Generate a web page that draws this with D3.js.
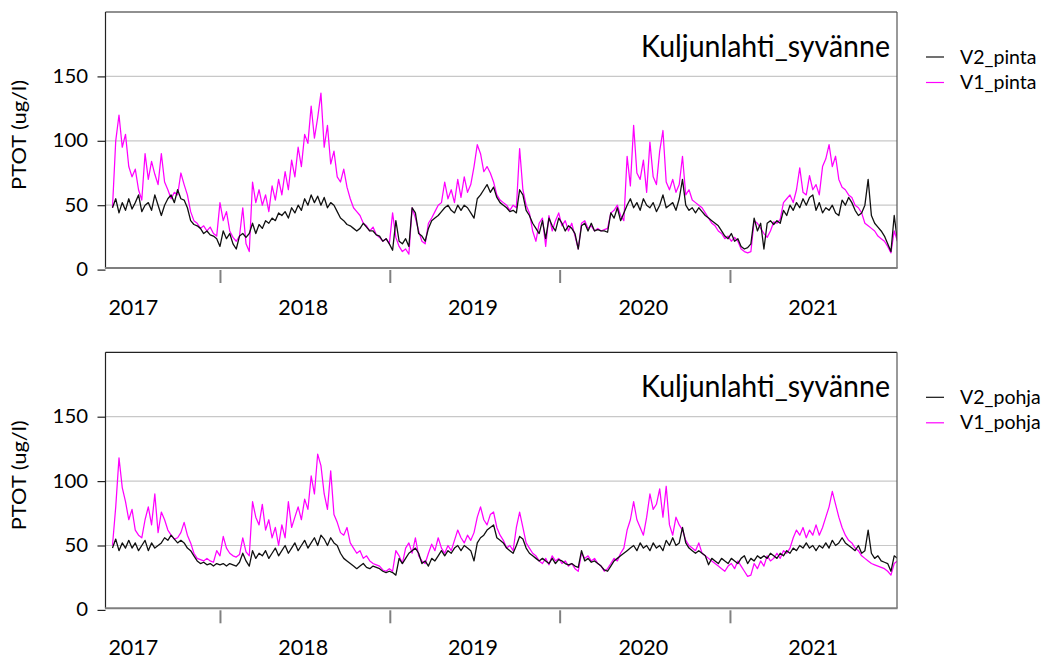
<!DOCTYPE html>
<html>
<head>
<meta charset="utf-8">
<script src="https://cdn.jsdelivr.net/npm/d3@7"></script>
<style>
  body { margin: 0; background: #fff; }
  svg { display: block; }
  text { font-family: Lato, "Open Sans", sans-serif; fill: #000; }
</style>
</head>
<body>
<svg id="chart" width="1043" height="659"></svg>
<script>
// Weekly total phosphorus (ug/l), first sample 2017-05-15
const seriesStart = "2017-05-15";
const stepDays = 7;
const yearLabels = [2017, 2018, 2019, 2020, 2021];
const yTicks = [0, 50, 100, 150];
const stationName = "Kuljunlahti_syvänne";
const yTitle = "PTOT (ug/l)";
const surfaceNames = ["V2_pinta", "V1_pinta"];
const bottomNames = ["V2_pohja", "V1_pohja"];

const v2Pinta = [48,55,44,52,46,55,47,52,58,45,50,52,46,58,50,42,50,55,58,52,62,55,54,48,38,35,34,32,28,30,
  27,26,24,18,30,24,28,20,16,26,28,25,28,36,28,35,32,38,36,40,38,44,42,45,40,48,44,50,46,55,
  50,58,52,57,50,56,48,52,50,45,40,38,35,34,32,30,32,36,33,30,30,27,26,22,24,20,15,38,22,20,
  24,18,48,44,28,26,22,32,38,40,42,45,48,50,46,44,50,46,50,48,44,40,55,58,62,66,60,64,56,52,
  50,48,45,46,44,62,58,46,42,36,32,28,38,24,40,34,30,40,36,30,34,32,28,16,34,36,30,36,30,31,
  30,30,29,44,40,48,38,44,50,55,48,52,46,55,50,48,52,45,50,58,48,50,52,46,55,70,50,46,48,44,
  48,45,42,40,38,36,34,30,26,24,28,22,24,18,16,17,20,40,30,36,16,36,38,35,38,36,46,42,50,46,
  52,48,55,50,56,58,46,52,44,48,46,50,44,42,54,50,56,52,46,42,44,50,70,42,36,33,30,26,20,14,
  42,22];
const v1Pinta = [48,100,120,95,105,80,72,78,62,54,90,70,84,74,66,90,68,62,55,60,58,75,66,58,45,38,36,32,34,30,
  33,28,26,52,38,45,30,25,22,26,48,20,14,68,52,62,50,58,45,65,54,70,58,76,62,85,72,95,80,105,
  98,127,102,118,137,95,112,82,92,72,68,78,64,55,48,45,42,36,34,30,33,27,25,22,24,20,44,25,18,
  14,16,12,48,40,30,22,20,36,40,45,50,52,68,55,62,52,70,56,72,60,66,80,97,90,76,80,75,68,58,54,
  52,50,46,50,48,94,62,50,44,30,22,36,40,18,42,30,38,44,34,38,30,36,26,16,36,38,32,34,30,32,
  30,31,32,44,46,50,42,38,88,65,112,75,70,85,60,99,72,66,92,108,68,62,70,60,66,88,58,62,54,52,
  50,48,44,40,36,34,30,28,24,26,22,25,22,16,14,13,14,38,36,32,28,25,30,37,36,39,52,55,58,52,
  62,79,60,58,73,62,66,58,80,86,97,80,88,70,64,62,58,56,50,48,44,36,34,32,30,26,24,22,18,13,
  30,22];
const v2Pohja = [48,55,46,52,48,54,48,52,46,50,54,46,52,48,50,52,56,54,58,55,52,54,52,48,46,42,38,36,37,35,
  36,34,36,35,36,34,36,35,34,37,44,38,34,46,40,44,42,46,40,44,48,42,46,50,44,48,52,46,50,54,
  48,52,56,50,58,55,50,56,52,50,44,40,38,36,34,32,34,36,33,32,34,33,32,30,29,30,29,27,40,36,
  40,44,46,48,44,36,38,34,40,38,42,46,42,46,44,48,50,46,50,48,46,38,52,56,58,62,64,66,56,54,
  52,48,46,44,50,57,55,48,44,42,40,38,40,38,36,40,36,39,38,36,35,36,34,33,46,38,40,37,38,36,
  34,31,30,34,38,40,42,44,46,48,50,46,52,48,50,46,52,48,50,46,54,50,56,50,52,64,52,48,46,44,
  46,44,42,35,40,38,36,40,38,36,40,38,36,40,42,36,40,38,42,40,42,40,44,42,40,44,42,46,44,48,
  46,50,48,52,48,50,46,50,48,52,48,54,50,52,56,52,50,48,46,50,44,46,62,44,40,42,38,37,36,30,
  42,40];
const v1Pohja = [50,80,118,95,84,70,78,62,58,56,70,80,66,90,60,76,70,62,58,55,56,60,68,58,52,44,40,39,38,40,
  38,37,46,42,57,48,44,42,41,43,56,45,42,84,72,66,82,62,70,56,64,50,66,56,84,64,72,80,70,86,
  78,104,90,121,112,90,78,108,74,68,60,58,64,52,48,44,46,40,42,38,36,35,34,31,30,32,30,46,42,
  36,48,52,44,56,42,38,36,44,51,46,56,48,44,50,46,54,62,56,52,58,54,60,72,80,70,66,74,76,64,58,
  54,48,50,46,64,76,64,52,48,44,42,38,36,40,35,42,38,40,36,38,34,36,32,30,44,40,42,38,40,36,
  34,30,32,36,40,38,44,48,62,70,84,70,64,58,72,90,78,82,94,72,96,66,58,72,66,62,54,50,48,46,
  52,44,42,40,38,36,34,32,30,34,36,32,38,34,30,26,27,36,32,38,34,42,38,40,44,40,46,44,48,56,
  62,58,64,56,62,58,66,58,64,72,80,92,82,72,64,58,54,52,48,46,42,40,38,36,35,34,33,32,30,27,
  36,38];

const svg = d3.select("#chart");

const plot = { left: 105.5, right: 897, top: 12, bottom: 268 };
const dayMs = 86400000;
const t0 = Date.parse(seriesStart + "T00:00:00Z");
const dateAt = i => new Date(t0 + i * stepDays * dayMs);

const x = d3.scaleUtc()
  .domain([new Date(Date.UTC(2017, 3, 30)), new Date(Date.UTC(2021, 11, 26))])
  .range([plot.left, plot.right]);
const y = d3.scaleLinear().domain([0, 200]).range([269.6, 12]);

const line = d3.line()
  .x((d, i) => x(dateAt(i)))
  .y(d => y(d));

// stretch a text element horizontally to a given ink width
function fitWidth(sel, w) {
  sel.attr("textLength", w).attr("lengthAdjust", "spacingAndGlyphs");
}

const panels = [
  { dy: 0, names: surfaceNames, dark: v2Pinta, pink: v1Pinta },
  { dy: 340.3, names: bottomNames, dark: v2Pohja, pink: v1Pohja }
];

panels.forEach((p, k) => {
  const g = svg.append("g").attr("transform", `translate(0,${p.dy})`);
  const clipId = "clip" + k;
  g.append("clipPath").attr("id", clipId)
    .append("rect")
    .attr("x", plot.left).attr("y", plot.top)
    .attr("width", plot.right - plot.left).attr("height", plot.bottom - plot.top);

  // horizontal gridlines
  g.append("g").selectAll("line")
    .data(yTicks.filter(v => v > 0))
    .join("line")
    .attr("x1", plot.left).attr("x2", plot.right)
    .attr("y1", d => y(d)).attr("y2", d => y(d))
    .attr("stroke", "#c8c8c8").attr("stroke-width", 1.2);

  // series
  const lines = g.append("g").attr("clip-path", `url(#${clipId})`);
  lines.append("path").datum(p.pink)
    .attr("d", line).attr("fill", "none")
    .attr("stroke", "#ff00ff").attr("stroke-width", 1.25).attr("stroke-linejoin", "round");
  lines.append("path").datum(p.dark)
    .attr("d", line).attr("fill", "none")
    .attr("stroke", "#111").attr("stroke-width", 1.3).attr("stroke-linejoin", "round");

  // frame
  g.append("line").attr("x1", plot.left).attr("x2", plot.right)
    .attr("y1", plot.top).attr("y2", plot.top).attr("stroke", "#222").attr("stroke-width", 1.2);
  g.append("line").attr("x1", plot.left).attr("x2", plot.left)
    .attr("y1", plot.top).attr("y2", plot.bottom).attr("stroke", "#222").attr("stroke-width", 1.2);
  g.append("line").attr("x1", plot.right).attr("x2", plot.right)
    .attr("y1", plot.top).attr("y2", plot.bottom).attr("stroke", "#555").attr("stroke-width", 1.2);
  g.append("line").attr("x1", plot.left - 0.6).attr("x2", plot.right + 0.6)
    .attr("y1", plot.bottom).attr("y2", plot.bottom).attr("stroke", "#7f7f7f").attr("stroke-width", 2);

  // y axis
  const ya = g.append("g").attr("transform", `translate(${plot.left},0)`)
    .call(d3.axisLeft(y).tickValues(yTicks).tickSize(8).tickPadding(9.5));
  ya.select(".domain").remove();
  ya.selectAll(".tick line").attr("stroke", "#222").attr("stroke-width", 1.2);
  ya.selectAll(".tick text")
    .attr("font-size", 18.5).attr("font-family", "Lato, sans-serif").attr("fill", "#000")
    .each(function () {
      const w = this.getComputedTextLength();
      d3.select(this).attr("textLength", w * 1.1).attr("lengthAdjust", "spacingAndGlyphs");
    });

  // x axis: ticks at year boundaries, labels mid-year
  const xa = g.append("g").attr("transform", `translate(0,270)`)
    .call(d3.axisBottom(x)
      .tickValues(yearLabels.slice(1).map(yr => new Date(Date.UTC(yr, 0, 1))))
      .tickSize(13).tickFormat(""));
  xa.select(".domain").remove();
  xa.selectAll(".tick line").attr("stroke", "#808080").attr("stroke-width", 2);
  g.append("g").selectAll("text")
    .data(yearLabels)
    .join("text")
    .attr("x", d => x(new Date(Date.UTC(d, 6, 1))) - 1)
    .attr("y", 315)
    .attr("text-anchor", "middle")
    .attr("font-size", 21.5)
    .text(d => d);

  // station name
  const title = g.append("text")
    .attr("x", 890).attr("y", 56.5)
    .attr("text-anchor", "end")
    .attr("font-size", 30)
    .text(stationName);
  fitWidth(title, 249);

  // y axis title
  const yt = g.append("text")
    .attr("transform", "translate(26,135) rotate(-90)")
    .attr("text-anchor", "middle")
    .attr("font-size", 19)
    .text(yTitle);
  fitWidth(yt, 110);

  // legend
  const lg = g.append("g");
  const legendRows = [
    { name: p.names[0], color: "#111" },
    { name: p.names[1], color: "#ff00ff" }
  ];
  legendRows.forEach((r, j) => {
    const cy = 57 + j * 25.5;
    lg.append("line").attr("x1", 926).attr("x2", 944)
      .attr("y1", cy).attr("y2", cy)
      .attr("stroke", r.color).attr("stroke-width", 1.2);
    lg.append("text").attr("x", 960).attr("y", cy + 6.5)
      .attr("font-size", 19.5).text(r.name);
  });
});
</script>
</body>
</html>
